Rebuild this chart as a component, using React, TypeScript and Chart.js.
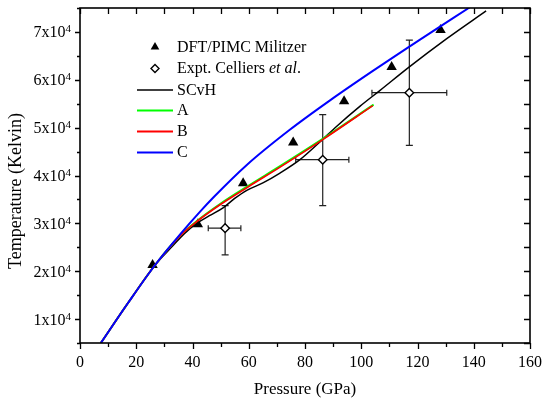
import React, { useEffect, useRef } from "react";
import { Chart, registerables } from "chart.js";

Chart.register(...registerables);

// ---- Data ----
const dftP = [25.8, 41.9, 58.0, 75.8, 93.9, 110.8, 128.2];
const dftT = [21300, 29800, 38400, 46900, 55500, 62650, 70400];

const exptP = [51.6, 86.3, 117.1];
const exptT = [29000, 43300, 57300];
const exptPLo = [45.6, 76.7, 103.8];
const exptPHi = [57.2, 95.6, 130.4];
const exptTLo = [23400, 33700, 46300];
const exptTHi = [33700, 52700, 68300];

const scvhP = [7.4, 17, 26.7, 33, 37, 41.5, 46, 51, 55, 59.3, 65.2, 71.1, 78.2, 85.3, 91.3, 99.6, 106.7, 117.1, 130.4, 144.4];
const scvhT = [5000, 13300, 21300, 25300, 27800, 30000, 31600, 33300, 35200, 36900, 38500, 40500, 43300, 47000, 50300, 54500, 57800, 62700, 68600, 74400];

const aP = [7.4, 17, 26.7, 35.6, 42, 49.8, 60, 71, 86.3, 104.4];
const aT = [5000, 13300, 21300, 27450, 30700, 34050, 37900, 41900, 47650, 54800];

const bP = [7.4, 17, 26.7, 35.6, 42, 49.8, 60, 71, 86.3, 104.1];
const bT = [5000, 13300, 21300, 27400, 30600, 33900, 37700, 41700, 47500, 54600];

const cP = [7.4, 17, 26.7, 35.6, 42.7, 47.4, 59.3, 74.7, 88.9, 104, 120.9, 138.5];
const cT = [5000, 13300, 21300, 27700, 32450, 35400, 42200, 49600, 55700, 61800, 68400, 75100];

const xMajorTicks = [0, 20, 40, 60, 80, 100, 120, 140, 160];
const xMinorTicks = [10, 30, 50, 70, 90, 110, 130, 150];
const yMajorTicks = [10000, 20000, 30000, 40000, 50000, 60000, 70000];
const yMinorTicks = [5000, 15000, 25000, 35000, 45000, 55000, 65000, 75000];
const yTickMantissa = ["1", "2", "3", "4", "5", "6", "7"];

const legendItems = [
  { label: "DFT/PIMC Militzer", kind: "triangle", color: "#000" },
  { label: "Expt. Celliers ", italic: "et al", tail: ".", kind: "diamond", color: "#000" },
  { label: "SCvH", kind: "line", color: "#000000" },
  { label: "A", kind: "line", color: "#00ff00" },
  { label: "B", kind: "line", color: "#ff0000" },
  { label: "C", kind: "line", color: "#0000ff" },
];

const FONT = "'Liberation Serif', 'Times New Roman', serif";

const zip = (xs: number[], ys: number[]) => xs.map((x, i) => ({ x, y: ys[i] }));

const framePlugin = {
  id: "frame",
  beforeDatasetsDraw(chart: any) {
    const { ctx } = chart;
    const xs = chart.scales.x;
    const ys = chart.scales.y;
    ctx.save();
    ctx.strokeStyle = "#222";
    ctx.lineWidth = 1.2;
    for (let i = 0; i < exptP.length; i++) {
      const cx = xs.getPixelForValue(exptP[i]);
      const cy = ys.getPixelForValue(exptT[i]);
      const xl = xs.getPixelForValue(exptPLo[i]);
      const xh = xs.getPixelForValue(exptPHi[i]);
      const yl = ys.getPixelForValue(exptTLo[i]);
      const yh = ys.getPixelForValue(exptTHi[i]);
      ctx.beginPath();
      ctx.moveTo(xl, cy); ctx.lineTo(xh, cy);
      ctx.moveTo(xl, cy - 3); ctx.lineTo(xl, cy + 3);
      ctx.moveTo(xh, cy - 3); ctx.lineTo(xh, cy + 3);
      ctx.moveTo(cx, yl); ctx.lineTo(cx, yh);
      ctx.moveTo(cx - 3.5, yl); ctx.lineTo(cx + 3.5, yl);
      ctx.moveTo(cx - 3.5, yh); ctx.lineTo(cx + 3.5, yh);
      ctx.stroke();
    }
    ctx.restore();
  },
  afterDraw(chart: any) {
    const { ctx, chartArea: a } = chart;
    const xs = chart.scales.x;
    const ys = chart.scales.y;
    ctx.save();
    ctx.strokeStyle = "#000";
    ctx.lineWidth = 1.6;
    ctx.strokeRect(a.left, a.top, a.right - a.left, a.bottom - a.top);
    ctx.lineWidth = 1.3;
    ctx.beginPath();
    const xt = (v: number, major: boolean) => {
      const p = Math.round(xs.getPixelForValue(v)) + 0.5;
      ctx.moveTo(p, a.bottom); ctx.lineTo(p, a.bottom + (major ? 6 : 4));
      ctx.moveTo(p, a.top); ctx.lineTo(p, a.top + 6);
    };
    xMajorTicks.forEach((v) => xt(v, true));
    xMinorTicks.forEach((v) => xt(v, false));
    const yt = (v: number, major: boolean) => {
      const p = Math.round(ys.getPixelForValue(v)) + 0.5;
      ctx.moveTo(a.left, p); ctx.lineTo(a.left - (major ? 5 : 3), p);
      ctx.moveTo(a.right, p); ctx.lineTo(a.right - 6, p);
    };
    yMajorTicks.forEach((v) => yt(v, true));
    yMinorTicks.forEach((v) => yt(v, false));
    ctx.stroke();

    ctx.fillStyle = "#000";
    ctx.textBaseline = "alphabetic";
    yMajorTicks.forEach((v, i) => {
      const p = ys.getPixelForValue(v);
      const main = yTickMantissa[i] + "x10";
      ctx.font = `16px ${FONT}`;
      const wm = ctx.measureText(main).width;
      ctx.font = `11px ${FONT}`;
      const ws = ctx.measureText("4").width;
      const right = a.left - 9;
      ctx.font = `16px ${FONT}`;
      ctx.textAlign = "left";
      ctx.fillText(main, right - ws - wm, p + 5.5);
      ctx.font = `11px ${FONT}`;
      ctx.fillText("4", right - ws, p + 0.5);
    });

    ctx.save();
    ctx.translate(16, 191);
    ctx.rotate(-Math.PI / 2);
    ctx.font = `18px ${FONT}`;
    ctx.textAlign = "center";
    ctx.textBaseline = "middle";
    ctx.fillText("Temperature (Kelvin)", 0, 0);
    ctx.restore();

    const rows = [47, 68.5, 90, 110.5, 131.5, 152.5];
    const symX = 155;
    const textX = 177;
    legendItems.forEach((it: any, i) => {
      const y = rows[i];
      if (it.kind === "triangle") {
        ctx.fillStyle = "#000";
        const r = 5;
        ctx.beginPath();
        ctx.moveTo(symX, y - r);
        ctx.lineTo(symX + r * 0.866, y + r * 0.5);
        ctx.lineTo(symX - r * 0.866, y + r * 0.5);
        ctx.closePath();
        ctx.fill();
      } else if (it.kind === "diamond") {
        const r = 4;
        ctx.fillStyle = "#fff";
        ctx.strokeStyle = "#000";
        ctx.lineWidth = 1.4;
        ctx.beginPath();
        ctx.moveTo(symX, y - r);
        ctx.lineTo(symX + r, y);
        ctx.lineTo(symX, y + r);
        ctx.lineTo(symX - r, y);
        ctx.closePath();
        ctx.fill();
        ctx.stroke();
      } else {
        ctx.strokeStyle = it.color;
        ctx.lineWidth = it.color === "#000000" ? 1.5 : 2;
        ctx.beginPath();
        ctx.moveTo(137, y);
        ctx.lineTo(173, y);
        ctx.stroke();
      }
      ctx.fillStyle = "#000";
      ctx.textAlign = "left";
      ctx.textBaseline = "middle";
      ctx.font = `16px ${FONT}`;
      ctx.fillText(it.label, textX, y + 0.5);
      if (it.italic) {
        let x = textX + ctx.measureText(it.label).width;
        ctx.font = `italic 16px ${FONT}`;
        ctx.fillText(it.italic, x, y + 0.5);
        x += ctx.measureText(it.italic).width;
        ctx.font = `16px ${FONT}`;
        ctx.fillText(it.tail, x, y + 0.5);
      }
    });
    ctx.restore();
  },
};

export default function App() {
  const ref = useRef<HTMLCanvasElement | null>(null);
  useEffect(() => {
    if (!ref.current) return;
    const lineDs = (label: string, xs: number[], ys: number[], color: string, width: number, order: number) => ({
      label,
      data: zip(xs, ys),
      showLine: true,
      borderColor: color,
      borderWidth: width,
      pointRadius: 0,
      cubicInterpolationMode: "monotone" as const,
      order,
    });
    const chart = new Chart(ref.current, {
      type: "scatter",
      data: {
        datasets: [
          {
            label: "Expt",
            data: zip(exptP, exptT),
            pointStyle: "rectRot",
            pointRadius: 4.3,
            backgroundColor: "#fff",
            borderColor: "#000",
            borderWidth: 1.4,
            showLine: false,
            order: 0,
          },
          lineDs("C", cP, cT, "#0000ff", 2, 1),
          lineDs("B", bP, bT, "#ff0000", 1.7, 2),
          lineDs("A", aP, aT, "#00ff00", 2, 3),
          lineDs("SCvH", scvhP, scvhT, "#000000", 1.5, 4),
          {
            label: "DFT/PIMC",
            data: zip(dftP, dftT),
            pointStyle: "triangle",
            pointRadius: 6,
            backgroundColor: "#000",
            borderColor: "#000",
            borderWidth: 0,
            showLine: false,
            order: 5,
          },
        ] as any,
      },
      options: {
        animation: false,
        responsive: false,
        maintainAspectRatio: false,
        layout: { padding: { left: 0, right: 12, top: 8, bottom: 0 } },
        plugins: { legend: { display: false }, tooltip: { enabled: false } },
        scales: {
          x: {
            type: "linear",
            min: 0,
            max: 160,
            grid: { display: false, drawTicks: false },
            border: { display: false },
            ticks: {
              stepSize: 20,
              padding: 10,
              color: "#000",
              font: { family: FONT, size: 16 },
              maxRotation: 0,
            },
            title: {
              display: true,
              text: "Pressure (GPa)",
              color: "#000",
              font: { family: FONT, size: 17 },
              padding: { top: 0, bottom: 1 },
            },
            afterFit: (s: any) => {
              s.height = 58;
              s.paddingLeft = 0;
              s.paddingRight = 0;
            },
          },
          y: {
            type: "linear",
            min: 5000,
            max: 75000,
            grid: { display: false, drawTicks: false },
            border: { display: false },
            ticks: { display: false, stepSize: 10000 },
            afterFit: (s: any) => {
              s.width = 80;
              s.paddingTop = 0;
              s.paddingBottom = 0;
            },
          },
        },
      },
      plugins: [framePlugin],
    });
    return () => chart.destroy();
  }, []);
  return (
    <div style={{ position: "fixed", left: 0, top: 0, width: 542, height: 401, background: "#fff" }}>
      <canvas ref={ref} width={542} height={401} style={{ width: 542, height: 401, display: "block" }} />
    </div>
  );
}
